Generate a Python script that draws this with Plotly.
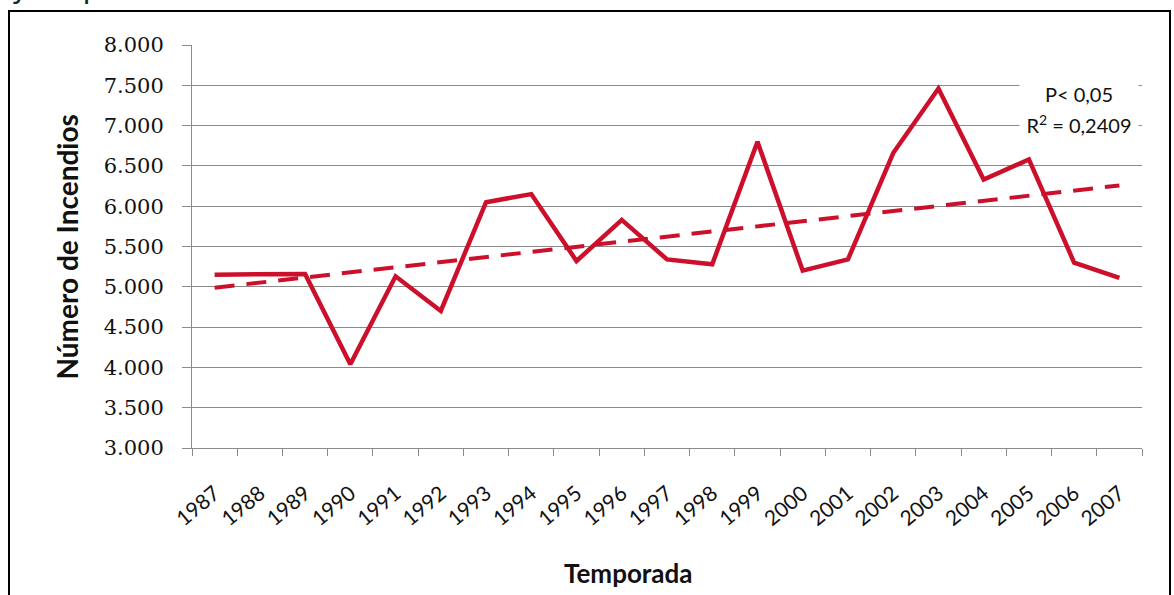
import numpy as np
import plotly.graph_objects as go

years = [str(y) for y in range(1987, 2008)]
incendios = [5150, 5150, 5160, 4040, 5130, 4700, 6050, 6150, 5320, 5830,
             5340, 5280, 6800, 5200, 5340, 6660, 7460, 6330, 6580, 5300, 5110]
y_tickvals = [3000, 3500, 4000, 4500, 5000, 5500, 6000, 6500, 7000, 7500, 8000]
y_ticktext = ["3.000", "3.500", "4.000", "4.500", "5.000", "5.500",
              "6.000", "6.500", "7.000", "7.500", "8.000"]
stat_lines = ["P< 0,05", "R<sup>2</sup> = 0,2409"]

RED = "#cc102c"
GRID = "#8a8a8a"

idx = np.arange(len(years))
slope, intercept = np.polyfit(idx, incendios, 1)
trend = slope * idx + intercept

W, H = 1174, 595
L, R, T, B = 192, 32, 45, 147
pw, ph = W - L - R, H - T - B

def px_x(x):
    return (x - L) / pw

def px_y(y):
    return (H - B - y) / ph

fig = go.Figure()
fig.add_trace(go.Scatter(x=years, y=list(trend), mode="lines",
                         line=dict(color=RED, width=4, dash="20px,12px"),
                         hoverinfo="skip", showlegend=False))
fig.add_trace(go.Scatter(x=years, y=incendios, mode="lines",
                         line=dict(color=RED, width=4.5),
                         showlegend=False))

fig.update_xaxes(type="category", range=[-0.5, len(years) - 0.5],
                 tickson="boundaries", ticks="outside", automargin=False,
                 ticklen=7, tickcolor=GRID, showline=True, linecolor=GRID,
                 linewidth=1, showgrid=False, tickangle=-40,
                 ticklabelstandoff=24,
                 tickfont=dict(family="Lato", size=21, color="#111"))
fig.update_yaxes(range=[3000, 8000], tickvals=y_tickvals, ticktext=y_ticktext,
                 ticks="outside", ticklen=9, tickcolor=GRID, showline=True,
                 linecolor=GRID, linewidth=1, showgrid=True, gridcolor=GRID,
                 gridwidth=1, zeroline=False, ticklabelstandoff=14,
                 automargin=False,
                 tickfont=dict(family="DejaVu Serif", size=21, color="#111"))

annotations = [
    dict(text="<b>Número de Incendios</b>", xref="paper", yref="paper",
         x=px_x(66), y=0.5, xanchor="center", yanchor="middle",
         textangle=-90, showarrow=False,
         font=dict(family="Lato", size=28, color="#111")),
    dict(text="<b>Temporada</b>", xref="paper", yref="paper",
         x=px_x(628), y=px_y(573), xanchor="center", yanchor="middle",
         showarrow=False,
         font=dict(family="Lato", size=26, color="#111")),
    dict(text="y su probabilidad.", xref="paper", yref="paper",
         x=px_x(10), y=px_y(6), xanchor="left", yanchor="bottom",
         borderpad=0, showarrow=False,
         font=dict(family="DejaVu Sans", size=30, color="#222")),
]
for t, yc in zip(stat_lines, [94, 124]):
    annotations.append(dict(text=t, xref="paper", yref="paper",
                            x=px_x(1079), y=px_y(yc), xanchor="center",
                            yanchor="middle", showarrow=False,
                            width=116, height=30, bgcolor="white",
                            font=dict(family="Lato", size=20, color="#111")))

fig.update_layout(
    width=W, height=H, margin=dict(l=L, r=R, t=T, b=B, autoexpand=False),
    paper_bgcolor="white", plot_bgcolor="white",
    annotations=annotations,
    shapes=[dict(type="rect", xref="paper", yref="paper",
                 x0=px_x(9), x1=px_x(1170), y0=px_y(600), y1=px_y(11),
                 line=dict(color="black", width=2), layer="above")],
)

fig.write_html("out.html", config={"displayModeBar": False},
               post_script="document.body.style.margin='0';")
